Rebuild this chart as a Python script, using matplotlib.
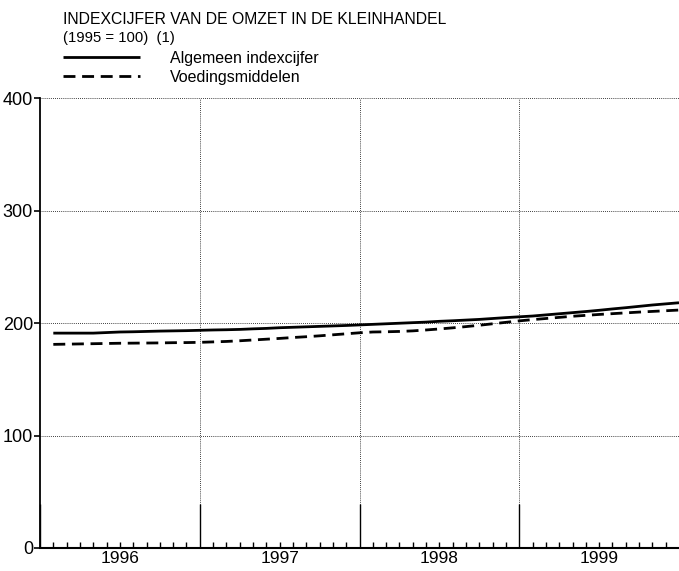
import matplotlib.pyplot as plt
import numpy as np

plt.rcParams['font.family'] = ['Liberation Sans', 'DejaVu Sans']

# monthly index values, jan 1996 .. dec 1999 (1995 = 100)
months = np.arange(1, 49)
algemeen = [191, 191, 191, 191, 191.5, 192, 192.2, 192.5, 192.8, 193, 193.2, 193.5,
            193.8, 194, 194.3, 194.8, 195.2, 195.8, 196.2, 196.6, 197, 197.4, 197.8, 198.3,
            198.8, 199.3, 199.8, 200.3, 200.8, 201.5, 202, 202.6, 203.2, 204, 204.8, 205.5,
            206.2, 207.2, 208.2, 209.2, 210.2, 211.3, 212.5, 213.6, 214.8, 216, 217, 218]
voeding = [181, 181.2, 181.4, 181.6, 181.8, 182, 182.1, 182.2, 182.3, 182.5, 182.6, 182.8,
           183.2, 183.6, 184.2, 184.9, 185.6, 186.3, 187.1, 187.8, 188.6, 189.5, 190.4, 191.3,
           192, 192.2, 192.5, 193, 193.8, 194.7, 195.7, 196.8, 198, 199.3, 200.6, 201.9,
           203, 204, 205, 206, 206.8, 207.6, 208.3, 209, 209.7, 210.3, 210.9, 211.5]
years = ['1996', '1997', '1998', '1999']
yticks = [0, 100, 200, 300, 400]

fig = plt.figure(figsize=(6.79, 5.71), dpi=100)
ax = fig.add_axes([40 / 679, 23 / 571, 639 / 679, 450 / 571])

l1, = ax.plot(months, algemeen, color='black', lw=2.0, solid_capstyle='butt')
l2, = ax.plot(months, voeding, color='black', lw=2.0, ls=(0, (4.3, 2.4)))

ax.set_xlim(0, 48)
ax.set_ylim(0, 400)

# grid: dotted lines
for y in [100, 200, 300, 400]:
    ax.axhline(y, color='black', lw=0.6, ls=(0, (1, 1.5)), zorder=0)
for x in [12, 24, 36]:
    ax.axvline(x, color='black', lw=0.6, ls=(0, (1, 1.5)), zorder=0)

ax.spines['top'].set_visible(False)
ax.spines['right'].set_visible(False)
ax.spines['left'].set_linewidth(1.3)
ax.spines['bottom'].set_linewidth(1.5)

ax.set_yticks(yticks)
ax.set_yticklabels([str(v) for v in yticks], fontsize=13)
ax.tick_params(axis='y', direction='out', length=4, width=1.2, pad=1)

# year boundaries as tall inner ticks, months as small ticks
ax.set_xticks([0, 12, 24, 36])
ax.set_xticklabels([])
ax.set_xticks(np.arange(0, 48), minor=True)
ax.tick_params(axis='x', which='major', direction='in', length=32, width=1.0)
ax.tick_params(axis='x', which='minor', direction='in', length=4, width=1.0)
for i, yr in enumerate(years):
    ax.text(12 * i + 6, -3, yr, ha='center', va='top', fontsize=12.5,
            transform=ax.transData)

fig.text(63 / 679, 1 - 20 / 571, 'INDEXCIJFER VAN DE OMZET IN DE KLEINHANDEL',
         fontsize=11.3, va='center', ha='left')
fig.text(63 / 679, 1 - 38 / 571, '(1995 = 100)  (1)', fontsize=10.7,
         va='center', ha='left')

fig.legend([l1, l2], ['Algemeen indexcijfer', 'Voedingsmiddelen'],
           loc='upper left', bbox_to_anchor=(63 / 679, 1 - 51 / 571),
           frameon=False, fontsize=11.5, handlelength=4.8, handletextpad=1.9,
           labelspacing=0.25, borderpad=0, borderaxespad=0)

fig.savefig('out.png', dpi=100)
